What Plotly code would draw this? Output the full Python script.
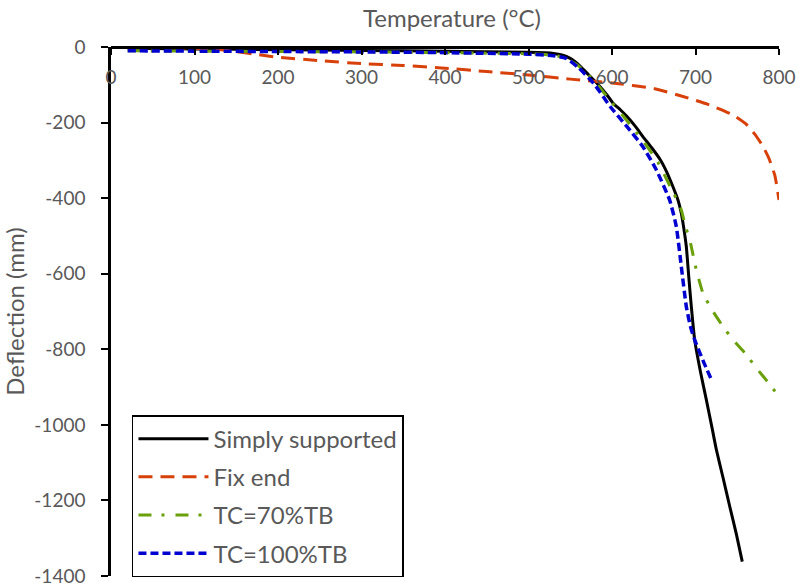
import plotly.graph_objects as go

# Simply supported
ss_T = [20, 100, 200, 300, 400, 500, 530, 540, 550, 558, 566, 574, 585, 594, 601, 610, 618, 628, 637, 648,
        658, 666, 673, 679, 683, 686, 689, 692, 695, 699, 706, 713, 720, 725, 733, 741, 749, 756]
ss_D = [-3, -5, -7, -9, -11, -14, -17, -21, -30, -43, -60, -78, -103, -127, -148, -166, -184, -210, -237, -268,
        -299, -333, -370, -405, -440, -480, -528, -610, -687, -775, -860, -934, -1010, -1066, -1140, -1216, -1290, -1362]

# Fix end
fe_T = [20, 60, 100, 125, 150, 175, 200, 250, 300, 350, 400, 450, 500, 550, 600, 650, 685, 715, 745, 760,
        770, 780, 788, 795, 800]
fe_D = [0, -1, -3, -6, -12, -20, -27, -36, -44, -49, -56, -65, -74, -85, -95, -110, -131, -152, -180, -203,
        -228, -260, -295, -340, -405]

# TC=70%TB
g_T = [20, 100, 200, 300, 400, 500, 530, 545, 560, 578, 598, 618, 637, 655, 671, 679, 683, 687, 694, 701,
       709, 721, 733, 745, 760, 773, 786, 800]
g_D = [-10, -11, -12, -13, -15, -18, -22, -30, -50, -88, -142, -195, -248, -305, -375, -410, -431, -466, -519, -590,
       -652, -700, -740, -775, -812, -850, -885, -925]

# TC=100%TB
b_T = [20, 100, 200, 300, 400, 500, 530, 545, 560, 578, 598, 618, 637, 653, 669, 677, 683, 689, 694, 699, 709, 719]
b_D = [-10, -11, -12, -13, -15, -19, -23, -30, -55, -96, -158, -211, -264, -325, -405, -475, -581, -687, -740, -775,
       -830, -880]

x_ticks = [0, 100, 200, 300, 400, 500, 600, 700, 800]
y_ticks = [0, -200, -400, -600, -800, -1000, -1200, -1400]
y_ticktext = ["0", "-200", "-400", "-600", "-800", "-1000", "-1200", "-1400"]

FONT = "Lato"
GREY = "#595959"
TICK_SIZE = 19
TEXT_SIZE = 24

fig = go.Figure()
series = [
    ("Simply supported", ss_T, ss_D, "black", "solid", 3),
    ("Fix end", fe_T, fe_D, "#D8400A", "14px,8px", 3),
    ("TC=70%TB", g_T, g_D, "#6AA00A", "13px,10px,3px,11px", 3),
    ("TC=100%TB", b_T, b_D, "#0000D0", "8px,4px", 3.5),
]
for i, (name, xs, ys, col, dash, w) in enumerate(series):
    fig.add_trace(go.Scatter(x=xs, y=ys, mode="lines", name=name, legendgroup=f"g{i}",
                             line=dict(color=col, dash=dash, width=w, shape="spline", smoothing=0.5)))

fig.update_layout(
    width=799, height=587,
    margin=dict(l=111, r=20, t=47, b=11, autoexpand=False),
    plot_bgcolor="white", paper_bgcolor="white",
    font=dict(family=FONT, size=TICK_SIZE, color=GREY),
    showlegend=True,
    legend=dict(x=0.0314, y=-0.002, xanchor="left", yanchor="bottom",
                bordercolor="black", borderwidth=1.5, bgcolor="white",
                font=dict(family=FONT, size=TEXT_SIZE, color=GREY),
                tracegroupgap=4, traceorder="grouped", itemwidth=70),
    xaxis=dict(range=[0, 800], tickvals=x_ticks, ticks="outside", ticklen=6, tickwidth=2, tickcolor="black",
               showline=True, linecolor="black", linewidth=2.5, showgrid=False, zeroline=False,
               side="bottom", anchor="free", position=1, ticklabelstandoff=6, automargin=False,
               tickfont=dict(family=FONT, size=TICK_SIZE, color=GREY)),
    yaxis=dict(range=[-1400, 0], tickvals=y_ticks, ticktext=y_ticktext, ticks="outside", ticklen=7, tickwidth=2,
               tickcolor="black", automargin=False,
               showline=True, linecolor="black", linewidth=2.5, showgrid=False, zeroline=False,
               ticklabelstandoff=12, tickfont=dict(family=FONT, size=TICK_SIZE, color=GREY),
               title=dict(text="Deflection (mm)", standoff=4, font=dict(family=FONT, size=TEXT_SIZE, color=GREY))),
    annotations=[dict(text="Temperature (°C)", xref="paper", yref="paper", x=0.51, y=1.055,
                      xanchor="center", yanchor="middle", showarrow=False,
                      font=dict(family=FONT, size=TEXT_SIZE, color=GREY))],
)

fig.write_html("out.html")
